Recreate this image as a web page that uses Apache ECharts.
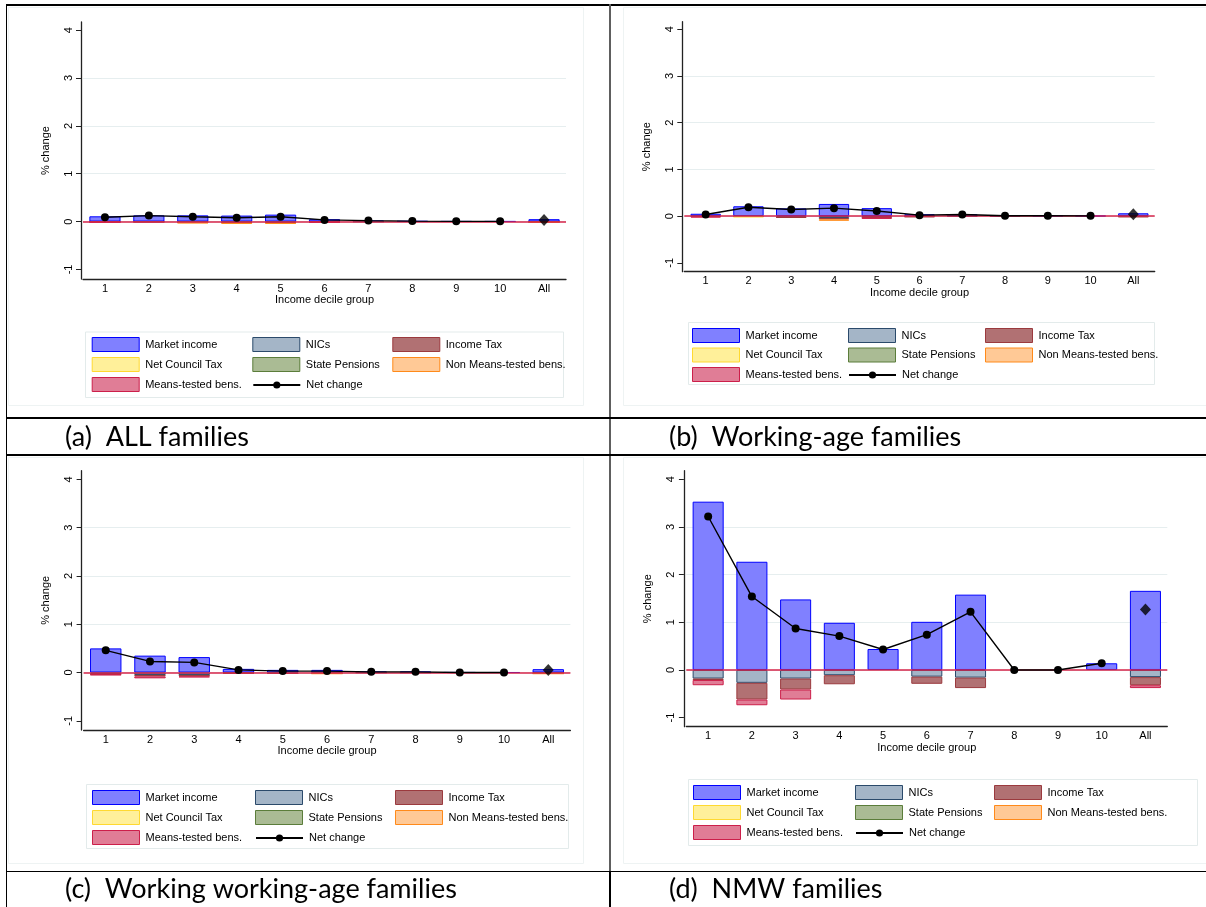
<!DOCTYPE html>
<html><head><meta charset="utf-8">
<script src="https://cdn.jsdelivr.net/npm/echarts@6/dist/echarts.min.js"></script>
<style>html,body{margin:0;padding:0;background:#fff}#c{width:1206px;height:907px}</style>
</head><body><div id="c"></div>
<script>
// ---------- data ----------
const categories = ['1','2','3','4','5','6','7','8','9','10','All'];
const yTicks = [-1, 0, 1, 2, 3, 4];
const componentNames = ['Market income','NICs','Income Tax','Net Council Tax','State Pensions','Non Means-tested bens.','Means-tested bens.'];
const netName = 'Net change';
const captions = ['(a)  ALL families', '(b)  Working-age families', '(c)  Working working-age families', '(d)  NMW families'];
const xTitle = 'Income decile group';
const yTitle = '% change';

// (a) ALL families
const aMarket      = [0.11, 0.13, 0.13, 0.125, 0.145, 0.05, 0.02, 0.01, 0.005, 0.005, 0.05];
const aNICs        = [-0.005, -0.005, -0.01, -0.015, -0.015, -0.005, -0.005, 0, 0, 0, -0.005];
const aIncomeTax   = [-0.005, -0.005, -0.01, -0.01, -0.015, -0.005, 0, 0, 0, 0, -0.005];
const aCouncilTax  = [0, 0, 0, 0, 0, 0, 0, 0, 0, 0, 0];
const aPensions    = [0, 0, 0, 0, 0, 0, 0, 0, 0, 0, 0];
const aNonMeans    = [0, 0, -0.015, -0.025, -0.02, 0, 0, 0, 0, 0, -0.01];
const aMeans       = [-0.01, 0, 0, 0, 0, -0.01, 0, 0, 0, 0, 0];
const aNet         = [0.09, 0.125, 0.10, 0.08, 0.10, 0.035, 0.02, 0.01, 0.005, 0.005];
const aNetAll      = 0.035;

// (b) Working-age families
const bMarket      = [0.05, 0.21, 0.165, 0.26, 0.17, 0.04, 0.04, 0.01, 0.007, 0.005, 0.06];
const bNICs        = [-0.01, -0.01, -0.025, -0.04, -0.02, -0.01, -0.005, -0.003, 0, 0, -0.01];
const bIncomeTax   = [0, 0, -0.01, -0.03, -0.01, -0.01, 0, 0, 0, 0, -0.01];
const bCouncilTax  = [0, -0.01, 0, 0, 0, 0, 0, 0, 0, 0, 0];
const bPensions    = [0, 0, 0, 0, 0, 0, 0, 0, 0, 0, 0];
const bNonMeans    = [0, 0, 0, -0.03, 0, 0, 0, 0, 0, 0, 0];
const bMeans       = [-0.02, 0, 0, 0, -0.03, 0, 0, 0, 0, 0, 0];
const bNet         = [0.035, 0.19, 0.14, 0.17, 0.11, 0.02, 0.035, 0.007, 0.007, 0.005];
const bNetAll      = 0.04;

// (c) Working working-age families
const cMarket      = [0.50, 0.35, 0.32, 0.076, 0.055, 0.055, 0.02, 0.02, 0.003, 0.002, 0.07];
const cNICs        = [-0.03, -0.05, -0.05, -0.01, -0.015, -0.01, -0.005, -0.005, 0, 0, -0.01];
const cIncomeTax   = [-0.01, -0.03, -0.03, -0.01, -0.01, -0.01, 0, 0, 0, 0, -0.01];
const cCouncilTax  = [0, 0, 0, 0, 0, 0, 0, 0, 0, 0, 0];
const cPensions    = [0, 0, 0, 0, 0, 0, 0, 0, 0, 0, 0];
const cNonMeans    = [0, 0, 0, 0, 0, -0.005, 0, 0, 0, 0, -0.005];
const cMeans       = [-0.015, -0.04, -0.02, 0, 0, 0, 0, 0, 0, 0, 0];
const cNet         = [0.46, 0.23, 0.21, 0.055, 0.03, 0.03, 0.014, 0.014, 0, 0];
const cNetAll      = 0.05;

// (d) NMW families
const dMarket      = [3.53, 2.27, 1.48, 0.99, 0.44, 1.01, 1.58, 0, 0, 0.14, 1.66];
const dNICs        = [-0.18, -0.27, -0.18, -0.11, 0, -0.14, -0.16, 0, 0, 0, -0.15];
const dIncomeTax   = [-0.03, -0.35, -0.23, -0.19, 0, -0.15, -0.22, 0, 0, 0, -0.17];
const dCouncilTax  = [0, 0, 0, 0, 0, 0, 0, 0, 0, 0, 0];
const dPensions    = [0, 0, 0, 0, 0, 0, 0, 0, 0, 0, 0];
const dNonMeans    = [0, 0, 0, 0, 0, 0, 0, 0, 0, 0, 0];
const dMeans       = [-0.11, -0.12, -0.21, 0, 0, 0, 0, 0, 0, 0, -0.06];
const dNet         = [3.22, 1.54, 0.87, 0.71, 0.43, 0.74, 1.22, 0, 0, 0.14];
const dNetAll      = 1.27;

// ---------- styles / layout ----------
const fills   = ['#8080ff', '#a4b5c7', '#b17173', '#fff09a', '#aabb94', '#ffc996', '#e07d96'];
const borders = ['#0000ff', '#2b4a6b', '#9b3a3e', '#ffd930', '#5b7d3a', '#ff8a1a', '#cc1f4a'];
const FONT = 'Liberation Sans, Arial, sans-serif';

const panelData = [
  {comps:[aMarket,aNICs,aIncomeTax,aCouncilTax,aPensions,aNonMeans,aMeans], net:aNet, all:aNetAll},
  {comps:[bMarket,bNICs,bIncomeTax,bCouncilTax,bPensions,bNonMeans,bMeans], net:bNet, all:bNetAll},
  {comps:[cMarket,cNICs,cIncomeTax,cCouncilTax,cPensions,cNonMeans,cMeans], net:cNet, all:cNetAll},
  {comps:[dMarket,dNICs,dIncomeTax,dCouncilTax,dPensions,dNonMeans,dMeans], net:dNet, all:dNetAll}
];
const layouts = [
  {grid:{left:83, top:22, width:483, height:257}, yOff:2, min:-1.2, max:4.17,
   legCols:[91.7,252.3,392.3], legTop:337, legPitch:20, box:[85,331.5,478,65.5], frame:[8,7,575,398]},
  {grid:{left:684.3, top:21.7, width:470.4, height:250}, yOff:2, min:-1.19, max:4.16,
   legCols:[692,848,985], legTop:328, legPitch:19.5, box:[688,322,466,62], frame:[623,7,583,398]},
  {grid:{left:83.6, top:470.7, width:486.8, height:259.3}, yOff:2, min:-1.19, max:4.18,
   legCols:[92,255,395], legTop:790, legPitch:20, box:[86,784,482,64], frame:[8,457,575,406]},
  {grid:{left:686.3, top:470.7, width:481, height:256}, yOff:2.4, min:-1.19, max:4.18,
   legCols:[693,855,994], legTop:785, legPitch:20, box:[688,779,509,66], frame:[623,457,583,406]}
];
// legend blocks: [column, starting row, names]
const legendBlocks = [
  [0, 0, [componentNames[0]]], [0, 1, [componentNames[3]]], [0, 2, [componentNames[6]]],
  [1, 0, [componentNames[1]]], [1, 1, [componentNames[4]]], [1, 2, [netName]],
  [2, 0, [componentNames[2]]], [2, 1, [componentNames[5]]]
];

const grids = [], xAxes = [], yAxes = [], series = [], legends = [], graphics = [];
const nz = v => (v === 0 ? null : v);

layouts.forEach((L, i) => {
  grids.push(Object.assign({outerBoundsMode:'none', containLabel:false}, L.grid));
  xAxes.push({
    type:'category', gridIndex:i, data:categories, boundaryGap:true,
    axisLine:{show:true, onZero:false, lineStyle:{color:'#222', width:1.3}},
    axisTick:{show:false},
    axisLabel:{color:'#000', fontSize:11, fontFamily:FONT, margin:4, interval:0},
    splitLine:{show:false},
    name:xTitle, nameLocation:'middle', nameGap:15,
    nameTextStyle:{color:'#000', fontSize:11, fontFamily:FONT}
  });
  yAxes.push({
    type:'value', gridIndex:i, min:L.min, max:L.max, offset:L.yOff,
    axisLine:{show:true, onZero:false, lineStyle:{color:'#222', width:1.3}},
    axisTick:{show:true, length:5, customValues:yTicks, lineStyle:{color:'#222', width:1}},
    axisLabel:{customValues:yTicks, rotate:90, color:'#000', fontSize:11, fontFamily:FONT, margin:7},
    splitLine:{show:true, showMinLine:false, showMaxLine:false, lineStyle:{color:'#e6eeef', width:1}},
    name:yTitle, nameLocation:'middle', nameGap:30, nameRotate:90,
    nameTextStyle:{color:'#000', fontSize:11, fontFamily:FONT}
  });
  const P = panelData[i];
  P.comps.forEach((vals, k) => {
    series.push({
      type:'bar', name:componentNames[k], xAxisIndex:i, yAxisIndex:i, stack:'p'+i,
      barWidth:'71%', data:vals.map(nz), z:2, silent:true,
      itemStyle:{color:fills[k], borderColor:borders[k], borderWidth:1}
    });
  });
  series.push({
    type:'line', name:netName, xAxisIndex:i, yAxisIndex:i, z:6, silent:true,
    data:P.net.concat([null]), symbol:'circle', symbolSize:8, showSymbol:true,
    itemStyle:{color:'#000'}, lineStyle:{color:'#000', width:1.4},
    markLine:{silent:true, symbol:'none', label:{show:false},
      lineStyle:{color:'#d6254a', width:1.5, type:'solid'}, data:[{yAxis:0}]}
  });
  series.push({
    type:'scatter', name:netName + ' (All)', xAxisIndex:i, yAxisIndex:i, z:7, silent:true,
    data:[[categories[categories.length-1], P.all]], symbol:'diamond', symbolSize:[11,12],
    itemStyle:{color:'#000'}
  });
  legendBlocks.forEach(([col, row, names]) => {
    const isNet = names[0] === netName;
    const h = isNet ? 9 : 14;
    legends.push({
      orient:'vertical', left:L.legCols[col], top:L.legTop + row * L.legPitch + (14 - h) / 2,
      itemWidth:47, itemHeight:h, itemGap:0, selectedMode:false, padding:0,
      textStyle:{color:'#000', fontSize:11, fontFamily:FONT, padding:[0,0,0,1]},
      data: names.map(n => {
        const k = componentNames.indexOf(n);
        if (k < 0) return {name:n};
        return {name:n, icon:'rect', itemStyle:{color:fills[k], borderColor:borders[k], borderWidth:1}};
      })
    });
  });
  graphics.push({type:'rect', shape:{x:L.box[0]+0.5, y:L.box[1]+0.5, width:L.box[2], height:L.box[3]},
    style:{fill:null, stroke:'#e3ebeb', lineWidth:1}, silent:true, z:-1});
  graphics.push({type:'rect', shape:{x:L.frame[0]+0.5, y:L.frame[1]+0.5, width:L.frame[2], height:L.frame[3]},
    style:{fill:null, stroke:'#eef3f3', lineWidth:1}, silent:true, z:-2});
});

// table lines
const tableLines = [
  [6, 5, 1206, 5, 2.2, '#000'],
  [6.5, 4, 6.5, 907, 1, '#000'],
  [610, 4, 610, 871, 2, '#5e5e5e'],
  [610, 871, 610, 907, 2, '#000'],
  [6, 418, 1206, 418, 2.2, '#000'],
  [6, 455, 1206, 455, 2.2, '#000'],
  [6, 871.5, 1206, 871.5, 1.2, '#000']
];
tableLines.forEach(l => graphics.push({type:'line', silent:true, z:10,
  shape:{x1:l[0], y1:l[1], x2:l[2], y2:l[3]}, style:{stroke:l[5], lineWidth:l[4]}}));

const capPos = [[65,437],[669,437],[65,889],[669,889]];
captions.forEach((t, i) => graphics.push({type:'text', silent:true, z:10,
  x:capPos[i][0], y:capPos[i][1],
  style:{text:t, fill:'#000', font:'27px Lato, "Open Sans", sans-serif', verticalAlign:'middle'}}));

const chart = echarts.init(document.getElementById('c'), null, {renderer:'canvas'});
chart.setOption({
  animation:false,
  backgroundColor:'#fff',
  grid:grids, xAxis:xAxes, yAxis:yAxes, series:series, legend:legends,
  graphic:{elements:graphics}
});
</script></body></html>
